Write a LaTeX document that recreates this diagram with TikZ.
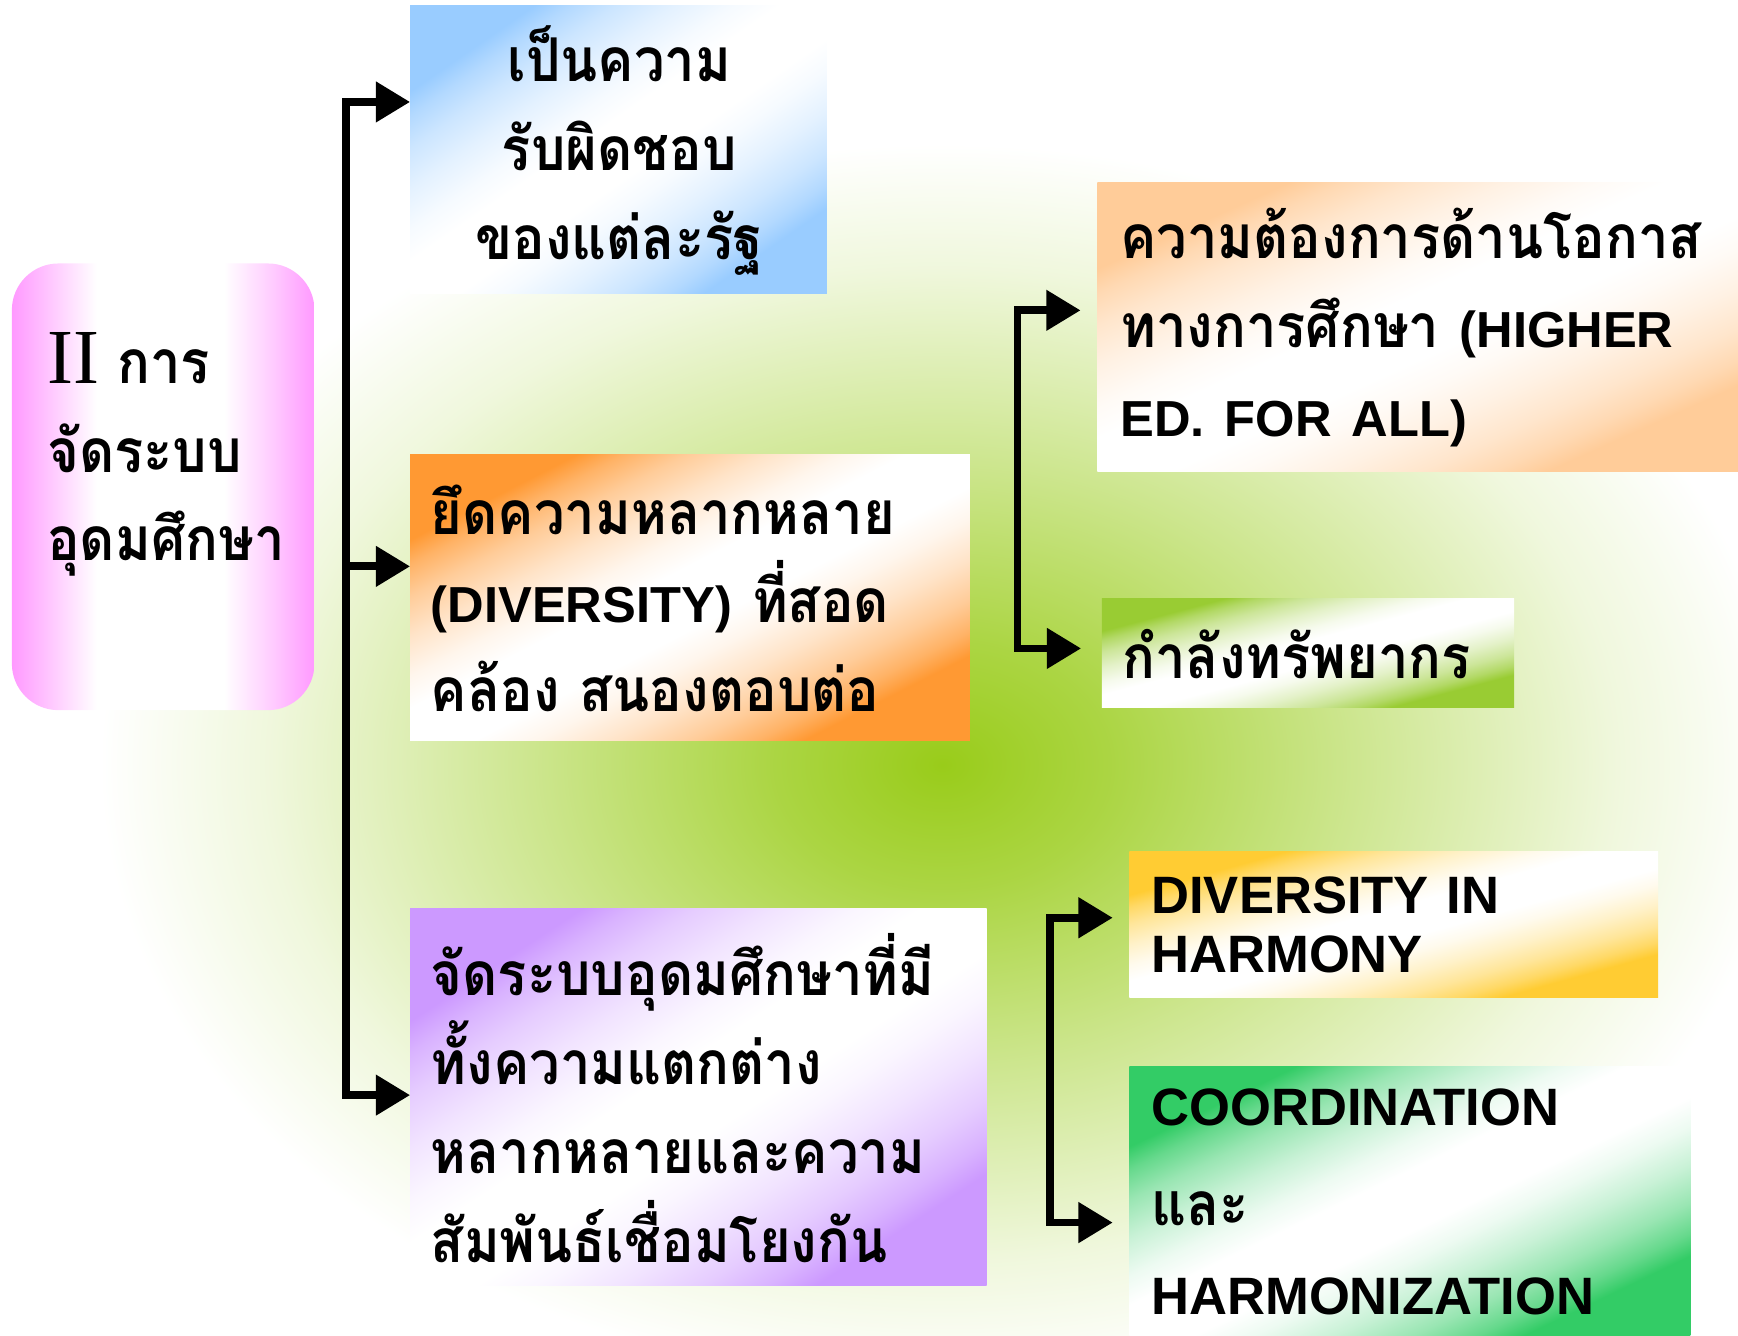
\documentclass[tikz,border=0pt]{standalone}
\usepackage{fontspec}
\newfontfamily\thaifont[Script=Thai, FakeStretch=0.9]{Loma}
\newfontfamily\latinfont{Liberation Sans}
\newfontfamily\romanfont{Liberation Serif}
\usetikzlibrary{arrows.meta}
\definecolor{pinkedge}{HTML}{FF99FF}
\definecolor{skyblue}{HTML}{99CCFF}
\definecolor{deeporange}{HTML}{FF9933}
\definecolor{lilac}{HTML}{CC99FF}
\definecolor{peach}{HTML}{FFCC99}
\definecolor{lime}{HTML}{99CC33}
\definecolor{gold}{HTML}{FFCC33}
\definecolor{jade}{HTML}{33CC66}
\definecolor{glowgreen}{HTML}{99CC1A}
\colorlet{tintcol}{white}
\pgfdeclareradialshading{glow}{\pgfpointorigin}{color(0bp)=(glowgreen); color(5bp)=(glowgreen!82!white); color(12bp)=(glowgreen!50!white); color(20bp)=(glowgreen!15!white); color(25bp)=(white); color(50bp)=(white)}
\pgfdeclareverticalshading[tintcol]{fadebar}{100bp}{color(0bp)=(tintcol); color(25bp)=(tintcol); color(28bp)=(tintcol!75!white); color(32bp)=(tintcol!50!white); color(37bp)=(tintcol!27!white); color(42bp)=(tintcol!9!white); color(46bp)=(white); color(54bp)=(white); color(58bp)=(tintcol!9!white); color(63bp)=(tintcol!27!white); color(68bp)=(tintcol!50!white); color(72bp)=(tintcol!75!white); color(75bp)=(tintcol); color(100bp)=(tintcol)}
\pgfdeclarehorizontalshading{sidefade}{100bp}{color(0bp)=(pinkedge); color(25bp)=(pinkedge); color(32bp)=(pinkedge!50!white); color(39bp)=(white); color(60bp)=(white); color(68bp)=(pinkedge!50!white); color(75bp)=(pinkedge); color(100bp)=(pinkedge)}
% shade a card from its top left corner (x,y), width, height, colour
\newcommand{\tintfill}[5]{\colorlet{tintcol}{#5}%
  \shade[shading=fadebar, shading angle=45,
  transform canvas={shift={(#1,#2)}, xscale=#3, yscale=#4}] (0cm,-1cm) rectangle (1cm,0cm);}
\newcommand{\en}[1]{{\latinfont\fontsize{13}{22.8}\selectfont #1}}
\frenchspacing

\begin{document}
\begin{tikzpicture}[x=1cm, y=-1cm]
	\tikzstyle{card}=[rectangle, anchor=north west, inner xsep=0.18cm, inner ysep=0pt,
	align=left, text=black, font=\frenchspacing\thaifont\bfseries\fontsize{15.5}{22.8}\selectfont]
	\tikzstyle{englishcard}=[card, font=\latinfont\bfseries\fontsize{13.5}{15.1}\selectfont]
	\tikzstyle{feed}=[line width=2pt, -{Triangle[length=8.8pt, width=10pt]}]
	
	\useasboundingbox (0,0) rectangle (15.68,12.05);
	\clip (0,0) rectangle (15.68,12.05);
	\shade[shading=glow] (0.9,1.3) rectangle (16.1,12.5);
	
	\tintfill{3.70}{0.05}{3.76}{2.60}{skyblue}
	\tintfill{3.70}{4.10}{5.05}{2.58}{deeporange}
	\tintfill{3.70}{8.20}{5.20}{3.40}{lilac}
	\tintfill{9.90}{1.65}{5.78}{2.60}{peach}
	\tintfill{9.94}{5.40}{3.72}{0.98}{lime}
	\tintfill{10.19}{7.68}{4.77}{1.32}{gold}
	\tintfill{10.19}{9.62}{5.06}{2.43}{jade}
	
	\node[card, shading=sidefade, rounded corners=0.42cm,
	minimum width=2.73cm, minimum height=4.03cm] at (0.10,2.37) (main) {};
	\node[card, anchor=west, inner xsep=0pt] at (0.42,4.10) (maintitle)
	{{\romanfont\mdseries\fontsize{20}{22.8}\selectfont II} การ\\จัดระบบ\\อุดมศึกษา};
	
	\node[card, align=center, text width=3.40cm,
	minimum width=3.76cm, minimum height=2.60cm] at (3.70,0.05) (duty)
	{เป็นความ\\รับผิดชอบ\\ของแต่ละรัฐ};
	\node[card, text width=4.69cm,
	minimum width=5.05cm, minimum height=2.58cm] at (3.70,4.10) (diverse)
	{ยึดความหลากหลาย\\\en{(DIVERSITY)} ที่สอด\\คล้อง สนองตอบต่อ};
	\node[card, text width=4.84cm,
	minimum width=5.20cm, minimum height=3.40cm] at (3.70,8.20) (system)
	{จัดระบบอุดมศึกษาที่มี\\ทั้งความแตกต่าง\\หลากหลายและความ\\สัมพันธ์เชื่อมโยงกัน};
	
	\node[card, inner xsep=0.20cm, text width=5.38cm,
	minimum width=5.78cm, minimum height=2.60cm] at (9.90,1.65) (access)
	{ความต้องการด้านโอกาส\\ทางการศึกษา \en{(HIGHER}\\\en{ED. FOR ALL)}};
	\node[card, text width=3.36cm,
	minimum width=3.72cm, minimum height=0.98cm] at (9.94,5.40) (resource)
	{กำลังทรัพยากร};
	
	\node[englishcard, inner xsep=0.19cm, text width=4.39cm,
	minimum width=4.77cm, minimum height=1.32cm] at (10.19,7.68) (harmony)
	{DIVERSITY IN\\HARMONY};
	\node[card, inner xsep=0.19cm, text width=4.68cm,
	minimum width=5.06cm, minimum height=2.43cm] at (10.19,9.62) (coord)
	{\en{\fontsize{13.5}{22.8}\selectfont COORDINATION}\\[0.1cm]และ\\\en{\fontsize{13.5}{22.8}\selectfont HARMONIZATION}};
	
	\coordinate (hubtop) at (3.12,0.92);
	\coordinate (hubmid) at (3.12,5.11);
	\coordinate (hubbot) at (3.12,9.88);
	\draw[feed] (hubbot) -- (hubtop) -- (hubtop -| duty.west);
	\draw[feed] (hubtop) -- (hubbot) -- (hubbot -| system.west);
	\draw[feed] (hubmid) -- (hubmid -| diverse.west);
	
	\coordinate (needtop) at (9.18,2.80);
	\coordinate (needbot) at (9.18,5.85);
	\draw[feed, shorten >=4.3pt] (needbot) -- (needtop) -- (needtop -| access.west);
	\draw[feed, shorten >=5.3pt] (needtop) -- (needbot) -- (needbot -| resource.west);
	
	\coordinate (tietop) at (9.47,8.28);
	\coordinate (tiebot) at (9.47,11.03);
	\draw[feed, shorten >=4.3pt] (tiebot) -- (tietop) -- (tietop -| harmony.west);
	\draw[feed, shorten >=4.3pt] (tietop) -- (tiebot) -- (tiebot -| coord.west);
	
\end{tikzpicture}
\end{document}
